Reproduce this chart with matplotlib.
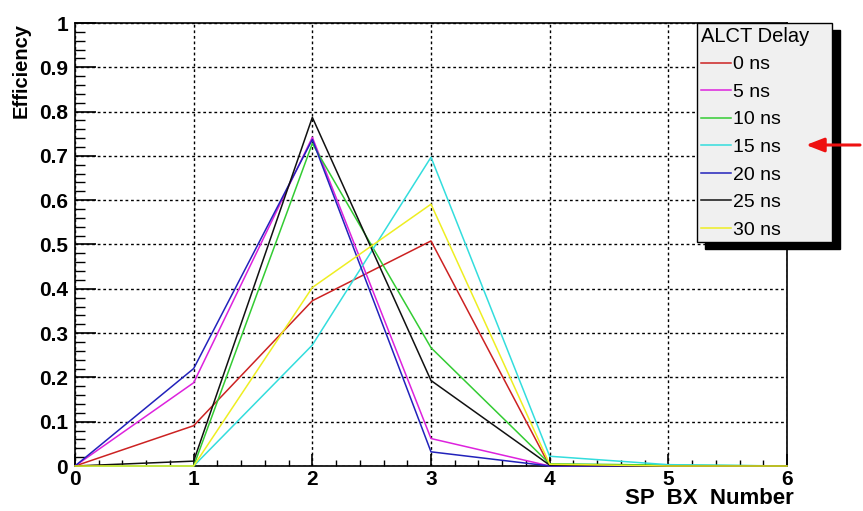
import matplotlib
matplotlib.use("Agg")
import matplotlib.pyplot as plt
from matplotlib.ticker import MultipleLocator, FormatStrFormatter
from matplotlib.patches import Rectangle, FancyArrowPatch

bx = [0, 1, 2, 3, 4, 5, 6]
delays = ['0 ns', '5 ns', '10 ns', '15 ns', '20 ns', '25 ns', '30 ns']
eff_0 = [0.0, 0.091, 0.373, 0.508, 0.0, 0.0, 0.0]
eff_5 = [0.0, 0.188, 0.742, 0.062, 0.0, 0.0, 0.0]
eff_10 = [0.0, 0.0, 0.728, 0.267, 0.005, 0.002, 0.0]
eff_15 = [0.0, 0.0, 0.273, 0.697, 0.022, 0.003, 0.0]
eff_20 = [0.0, 0.22, 0.737, 0.032, 0.0, 0.0, 0.0]
eff_25 = [0.0, 0.011, 0.787, 0.193, 0.002, 0.0, 0.0]
eff_30 = [0.0, 0.0, 0.403, 0.591, 0.004, 0.0, 0.0]
series = [eff_0, eff_5, eff_10, eff_15, eff_20, eff_25, eff_30]
colors = ['#cc2222', '#dd22dd', '#33cc33', '#33dddd', '#2222bb', '#111111', '#eeee22']

bold = dict(family='Liberation Sans', weight='bold')

fig = plt.figure(figsize=(8.63, 5.11), dpi=100)
ax = fig.add_axes([75/863, 1-466/511, 712/863, 443/511])

handles = []
for y, c, lab in zip(series, colors, delays):
    h, = ax.plot(bx, y, color=c, lw=1.1, label=lab, zorder=3, clip_on=False)
    handles.append(h)

ax.set_xlim(0, 6); ax.set_ylim(0, 1)
ax.xaxis.set_major_locator(MultipleLocator(1))
ax.xaxis.set_minor_locator(MultipleLocator(0.2))
ax.yaxis.set_major_locator(MultipleLocator(0.1))
ax.yaxis.set_minor_locator(MultipleLocator(0.02))
ax.yaxis.set_major_formatter(FormatStrFormatter('%g'))
ax.grid(True, which='major', color='black', linestyle=(0, (2, 2)), lw=1)
ax.tick_params(axis='y', which='major', direction='in', length=15, width=1.2, pad=5)
ax.tick_params(axis='y', which='minor', direction='in', length=7.5, width=1.0)
ax.tick_params(axis='x', which='major', direction='in', length=9, width=1.2, pad=3)
ax.tick_params(axis='x', which='minor', direction='in', length=4.5, width=1.0)
for lab in ax.get_xticklabels() + ax.get_yticklabels():
    lab.set(fontsize=15, **bold)
for s in ax.spines.values():
    s.set_linewidth(1.2)

ax.set_xlabel('SP  BX  Number', loc='right', fontsize=16, **bold)
ax.xaxis.set_label_coords(1 + 7/712, -(488 - 466)/443)
ax.set_ylabel('Efficiency', loc='top', fontsize=14.5, labelpad=6, **bold)

leg = fig.legend(handles=handles, title='ALCT Delay', loc='upper left',
                 bbox_to_anchor=(697/863, 1-23/511 - 0.01, 135/863, 0.01), mode='expand',
                 borderaxespad=0, fancybox=False, framealpha=1, edgecolor='black',
                 facecolor='#f0f0f0', title_fontsize=14.5,
                 handlelength=1.55, handletextpad=0.1, labelspacing=0.51,
                 borderpad=0.2, alignment='left',
                 prop=dict(family='Liberation Sans', size=14))
leg.get_title().set_family('Liberation Sans')
leg.get_frame().set_linewidth(1.0)
leg.set_zorder(5)

# black drop shadow behind the legend box
fig.canvas.draw()
bb = leg.get_window_extent().transformed(fig.transFigure.inverted())
fig.add_artist(Rectangle((bb.x0 + 8/863, bb.y0 - 7/511), bb.width, bb.height,
                         transform=fig.transFigure, color='black', zorder=4))

fig.add_artist(FancyArrowPatch((860/863, 1-145/511), (806/863, 1-145/511),
                               transform=fig.transFigure, color='#ee1111',
                               arrowstyle='-|>,head_length=0.9,head_width=0.35',
                               mutation_scale=12, lw=2.2, shrinkA=0, shrinkB=0,
                               zorder=6))

fig.savefig('out.png', dpi=100)
